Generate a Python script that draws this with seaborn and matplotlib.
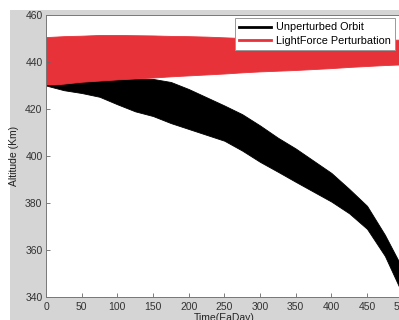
import pandas as pd
import matplotlib
matplotlib.use('Agg')
import matplotlib.pyplot as plt
from matplotlib.lines import Line2D
from matplotlib.patches import Rectangle
import seaborn as sns

# time axis (EaDay) and band edges
time = [0, 25, 50, 75, 100, 125, 150, 175, 200, 225, 250, 275, 300, 325, 350,
        375, 400, 425, 450, 475, 500]

unpert_upper = [430.0, 431.5, 432.2, 432.6, 432.9, 433.0, 432.8, 431.5, 428.5,
                425.0, 421.5, 417.8, 413.0, 407.8, 403.2, 398.0, 392.8, 386.0,
                378.8, 366.5, 352.0]
unpert_lower = [430.0, 428.0, 426.8, 425.2, 422.0, 419.0, 417.0, 414.0, 411.5,
                409.0, 406.5, 402.3, 397.5, 393.3, 389.0, 384.8, 380.6, 375.6,
                369.0, 357.5, 341.0]

light_upper = [450.6, 451.0, 451.2, 451.5, 451.5, 451.4, 451.3, 451.1, 451.0,
               450.8, 450.5, 450.2, 450.0, 450.0, 450.0, 450.0, 450.0, 449.8,
               449.6, 449.5, 449.5]
light_lower = [430.0, 430.8, 431.6, 432.1, 432.6, 433.0, 433.4, 433.9, 434.3,
               434.7, 435.1, 435.6, 436.0, 436.3, 436.6, 437.0, 437.4, 437.9,
               438.3, 438.7, 439.0]

series_names = ['Unperturbed Orbit', 'LightForce Perturbation']
series_colors = ['black', '#e8323a']
x_ticks = list(range(0, 501, 50))
y_ticks = list(range(340, 461, 20))


def build_frame():
    rows = []
    for name, upper, lower in [(series_names[0], unpert_upper, unpert_lower),
                               (series_names[1], light_upper, light_lower)]:
        for t, hi, lo in zip(time, upper, lower):
            rows.append((t, hi, name))
            rows.append((t, lo, name))
    return pd.DataFrame(rows, columns=['time', 'altitude', 'series'])


def main():
    df = build_frame()
    plt.rcParams['font.family'] = ['Liberation Sans', 'DejaVu Sans']

    fig = plt.figure(figsize=(3.99, 3.2), dpi=100, facecolor='white')
    # grey MATLAB-like figure background, cropped screenshot look
    fig.patches.append(Rectangle((10 / 399, 0), 1, (320 - 10) / 320,
                                 transform=fig.transFigure, facecolor='#d5d5d5',
                                 edgecolor='none', zorder=-5))

    ax = fig.add_axes([46 / 399, 23 / 320, 356.7 / 399, 282 / 320])
    ax.set_zorder(1)
    ax.set_facecolor('white')

    # min/max band per time step = the thick oscillating orbit trace
    sns.lineplot(data=df, x='time', y='altitude', hue='series',
                 hue_order=series_names, palette=series_colors,
                 estimator='mean', errorbar=('pi', 100),
                 err_kws={'alpha': 1, 'linewidth': 0.6}, linewidth=0.5,
                 legend=False, ax=ax)
    for coll, c in zip(ax.collections, series_colors):
        coll.set_edgecolor(c)

    ax.set_xlim(0, 500)
    ax.set_ylim(340, 460)
    ax.set_xticks(x_ticks)
    ax.set_yticks(y_ticks)
    ax.tick_params(direction='in', length=3, width=0.6, colors='#666666',
                   labelcolor='#333333', labelsize=7.5)
    ax.tick_params(axis='x', pad=3.5)
    ax.tick_params(axis='y', pad=2.5)
    for sp in ax.spines.values():
        sp.set_color('#777777')
        sp.set_linewidth(0.7)

    ax.set_xlabel('Time(EaDay)', fontsize=7.5, color='#222222')
    ax.set_ylabel('Altitude (Km)', fontsize=7.5, color='#222222')
    ax.xaxis.set_label_coords(0.5, -0.055)
    ax.yaxis.set_label_coords(-0.075, 0.5)

    handles = [Line2D([], [], color=c, lw=2.0) for c in series_colors]
    leg = ax.legend(handles, series_names, loc='upper right',
                    bbox_to_anchor=((395 - 46) / 356.7, (297 - 18) / 282),
                    borderaxespad=0, fontsize=7.8, handlelength=3.0,
                    handletextpad=0.4, labelspacing=0.3, borderpad=0.4,
                    fancybox=False, framealpha=1, edgecolor='#999999')
    leg.get_frame().set_linewidth(0.7)

    fig.savefig('out.png', dpi=100, facecolor=fig.get_facecolor())


if __name__ == '__main__':
    main()
